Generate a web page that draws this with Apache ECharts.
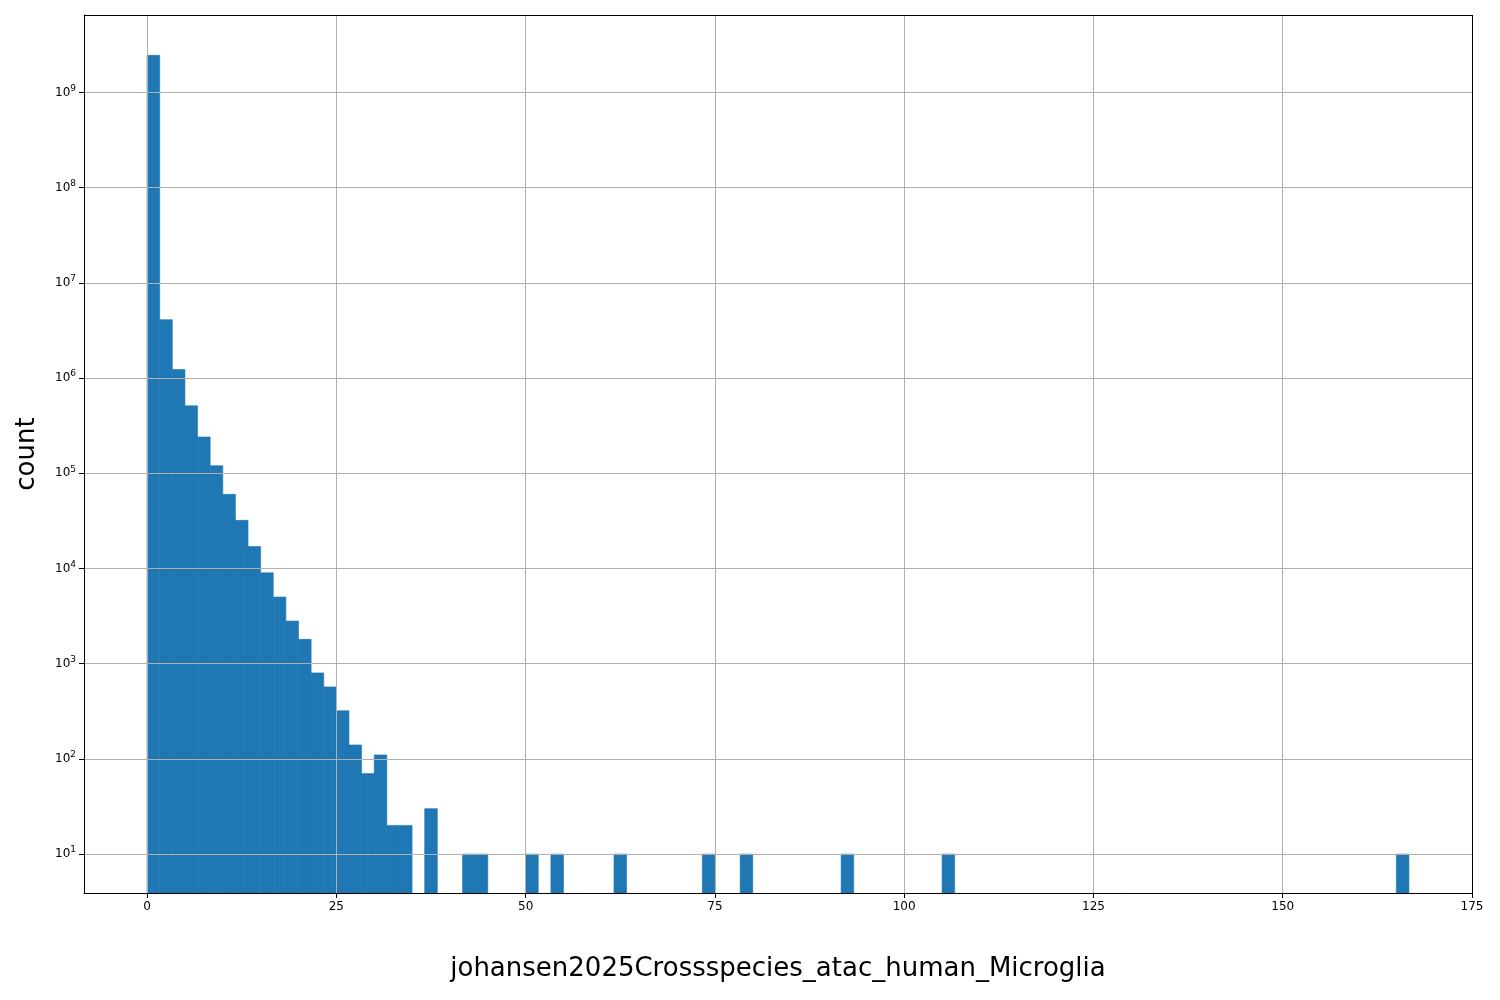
<!DOCTYPE html>
<html><head><meta charset="utf-8">
<script src="https://cdn.jsdelivr.net/npm/echarts@6/dist/echarts.min.js"></script>
<style>html,body{margin:0;padding:0;background:#fff}#c{width:1500px;height:1000px}</style>
</head><body><div id="c"></div>
<script>
const binStart = 0, binWidth = 1.6667;
const binIndex = [0,1,2,3,4,5,6,7,8,9,10,11,12,13,14,15,16,17,18,19,20,22,25,26,30,32,37,44,47,55,63,99];
const counts = [2.45e9,4.1e6,1.23e6,5.1e5,2.4e5,1.2e5,6e4,3.2e4,1.7e4,9e3,5e3,2.8e3,1.8e3,800,570,320,140,70,110,20,20,30,10,10,10,10,10,10,10,10,10,10];
const yMin = 3.9, yMax = 6.5e9;
const xTicks = [0,25,50,75,100,125,150,175];
const yTicks = [10,100,1e3,1e4,1e5,1e6,1e7,1e8,1e9];
const data = binIndex.map((b,i)=>[binStart+b*binWidth, binStart+(b+1)*binWidth, counts[i]]);
const chart = echarts.init(document.getElementById('c'));
chart.setOption({
  animation:false,
  grid:{left:84,right:28,top:15,bottom:107,show:false,outerBoundsMode:'none',containLabel:false},
  xAxis:{type:'value',min:-8.333,max:175,z:5,
    name:'johansen2025Crossspecies_atac_human_Microglia',nameLocation:'middle',nameGap:63,
    nameTextStyle:{fontSize:26,color:'#000',fontFamily:'DejaVu Sans'},
    axisLine:{show:true,onZero:false,lineStyle:{color:'#000'}},
    axisTick:{show:true,length:5,lineStyle:{color:'#000'},customValues:xTicks},
    axisLabel:{color:'#000',fontSize:12,fontFamily:'DejaVu Sans',margin:8,customValues:xTicks},
    splitLine:{show:true,lineStyle:{color:'#b0b0b0',width:1}}},
  yAxis:{type:'log',logBase:10,min:yMin,max:yMax,z:5,
    name:'count',nameLocation:'middle',nameGap:44,
    nameTextStyle:{fontSize:26,color:'#000',fontFamily:'DejaVu Sans'},
    axisLine:{show:true,onZero:false,lineStyle:{color:'#000'}},
    axisTick:{show:true,length:5,lineStyle:{color:'#000'},customValues:yTicks},
    axisLabel:{color:'#000',fontSize:12,fontFamily:'DejaVu Sans',margin:8,customValues:yTicks,
      formatter:v=>'10{s|'+Math.round(Math.log10(v))+'}',
      rich:{s:{fontSize:9,verticalAlign:'top',padding:[0,0,8,0],fontFamily:'DejaVu Sans',color:'#000'}}},
    splitLine:{show:true,lineStyle:{color:'#b0b0b0',width:1}}},
  series:[{type:'custom',data:data,encode:{x:[0,1],y:2},z:1,
    renderItem:(params,api)=>{
      const p0=api.coord([api.value(0),api.value(2)]);
      const p1=api.coord([api.value(1),yMin]);
      return {type:'rect',shape:{x:p0[0],y:p0[1],width:p1[0]-p0[0],height:p1[1]-p0[1]},style:{fill:'#1f77b4',stroke:'#1f77b4',lineWidth:0.6}};
    }},
   {type:'line',data:[],markLine:{silent:true,symbol:'none',label:{show:false},lineStyle:{color:'#000',type:'solid',width:1},
     data:[[{coord:[-8.333,yMax]},{coord:[175,yMax]}],[{coord:[175,yMin]},{coord:[175,yMax]}]]}}]
});
</script></body></html>
